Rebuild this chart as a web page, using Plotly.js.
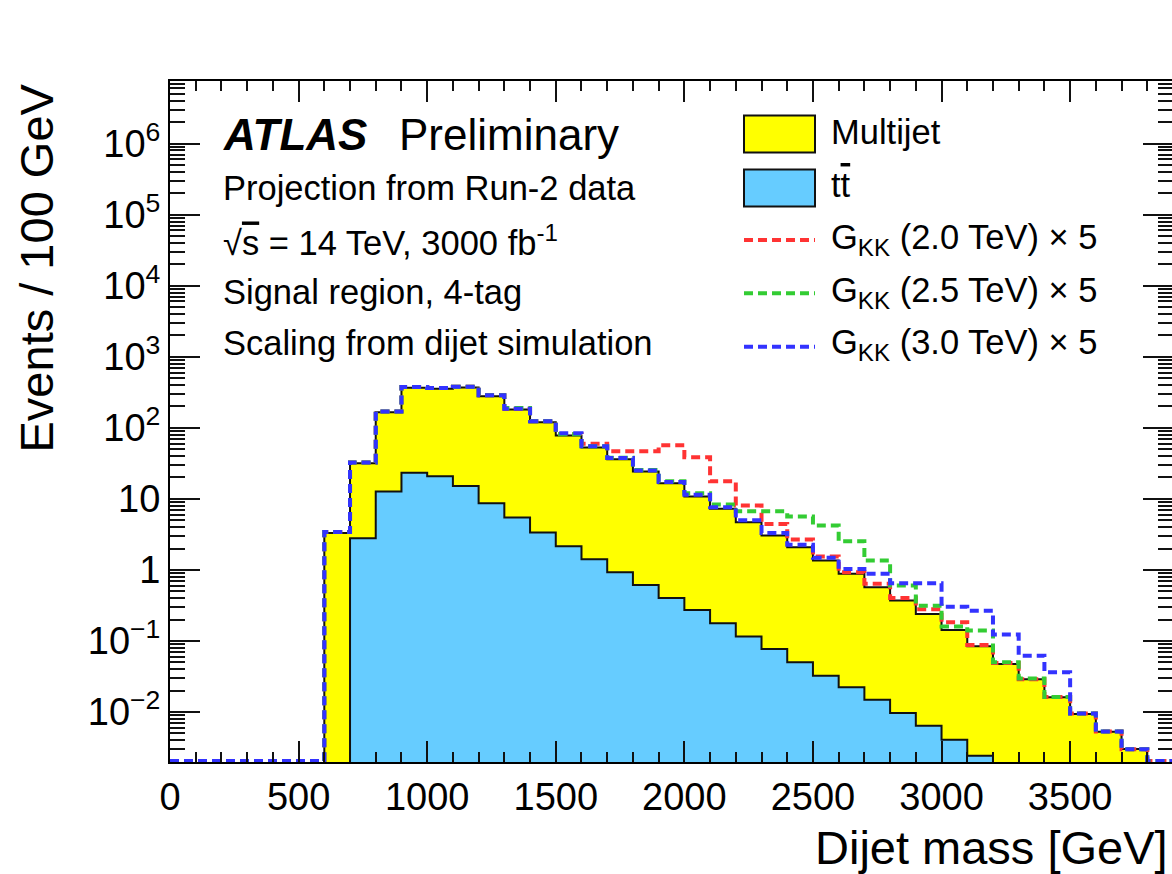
<!DOCTYPE html>
<html>
<head>
<meta charset="utf-8">
<script src="https://cdn.plot.ly/plotly-3.0.1.min.js"></script>
<style>
  html, body { margin: 0; padding: 0; background: #fff; overflow: hidden; }
  #plot { width: 1174px; height: 874px; }
</style>
</head>
<body>
<div id="plot"></div>
<script>
// Dijet mass histograms, 100 GeV bins; first bin starts at 600 GeV.
const binWidth = 100;
const firstEdge = 600;

// Top of the yellow stack (multijet stacked on ttbar), per bin from 600 GeV
const multijetStacked = [3.3, 31.7, 166, 366, 354, 370, 279, 181, 120, 78, 53, 36, 24.2, 16.6,
  10.8, 7.23, 4.69, 3.04, 2.08, 1.35, 0.879, 0.569, 0.370, 0.240, 0.143, 0.0839, 0.0475,
  0.0288, 0.0161, 0.00937, 0.00528, 0.00301];

// ttbar, per bin from 700 GeV
const ttbarStart = 700;
const ttbar = [2.79, 12.7, 23.2, 20.8, 15.2, 8.67, 5.45, 3.35, 2.15, 1.41, 0.925, 0.615, 0.403,
  0.273, 0.177, 0.115, 0.0771, 0.0500, 0.0324, 0.0222, 0.0149, 0.00968, 0.00641, 0.00407, 0.00243];

// Background + 5 x G_KK signal, per bin from 600 GeV
const gkk2000 = [3.4, 32.5, 170, 375, 362, 378, 286, 186, 124, 82, 59.5, 46.9, 46.9, 57, 38.5,
  17.7, 8.05, 4.44, 2.67, 1.54, 0.925, 0.64, 0.403, 0.28, 0.183, 0.088, 0.049, 0.029, 0.0163,
  0.0095, 0.0053, 0.0030];
const gkk2500 = [3.4, 32.5, 170, 375, 362, 378, 286, 190, 124, 81, 55, 38, 25.5, 17.7, 12.0,
  8.3, 6.69, 6.69, 5.63, 4.2, 2.53, 1.35, 0.601, 0.314, 0.16, 0.14, 0.05, 0.0295, 0.0163,
  0.0095, 0.0053, 0.0030];
const gkk3000 = [3.4, 32.5, 170, 375, 362, 378, 286, 186, 124, 84, 55, 37.5, 25, 17.2, 11.4,
  7.6, 5.0, 3.3, 2.25, 1.48, 1.03, 0.88, 0.648, 0.648, 0.304, 0.267, 0.123, 0.062, 0.0361,
  0.00955, 0.0053, 0.0030];

const xRange = [0, 3900];
const logRange = [-2.704, 6.881];

const yTickVals = [1e6, 1e5, 1e4, 1e3, 1e2, 10, 1, 0.1, 0.01];
const yTickText = ['10<sup>6</sup>', '10<sup>5</sup>', '10<sup>4</sup>', '10<sup>3</sup>',
  '10<sup>2</sup>', '10', '1', '10<sup>\u22121</sup>', '10<sup>\u22122</sup>'];

const legendLabels = ['Multijet', 't<span style="text-decoration:overline">t</span>',
  'G<sub>KK</sub> (2.0 TeV) \u00d7 5', 'G<sub>KK</sub> (2.5 TeV) \u00d7 5',
  'G<sub>KK</sub> (3.0 TeV) \u00d7 5'];

const infoLines = ['Projection from Run-2 data',
  '\u221a<span style="text-decoration:overline">s</span> = 14 TeV, 3000 fb<sup>-1</sup>',
  'Signal region, 4-tag', 'Scaling from dijet simulation'];

const colors = {
  multijet: '#ffff00', ttbar: '#66ccff',
  g2000: '#ff3333', g2500: '#33cc33', g3000: '#3333ff'
};

// Filled step histogram closed along a level below the visible range
function filledStep(values, start) {
  const below = Math.pow(10, logRange[0] - 1);
  const x = [start], y = [below];
  values.forEach((v, i) => { x.push(start + i * binWidth); y.push(v); });
  const end = start + values.length * binWidth;
  x.push(end, end); y.push(values[values.length - 1], below);
  return { x, y };
}

// Outline over the full axis; empty bins sit on the lower edge of the plot
function outlineStep(values, start) {
  const floor = Math.pow(10, logRange[0] + 0.015);
  const x = [], y = [];
  for (let e = xRange[0]; e < xRange[1]; e += binWidth) {
    const i = Math.round((e - start) / binWidth);
    x.push(e);
    y.push(i >= 0 && i < values.length ? values[i] : floor);
  }
  x.push(xRange[1]); y.push(y[y.length - 1]);
  return { x, y };
}

const mj = filledStep(multijetStacked, firstEdge);
const tt = filledStep(ttbar, ttbarStart);
const s1 = outlineStep(gkk2000, firstEdge);
const s2 = outlineStep(gkk2500, firstEdge);
const s3 = outlineStep(gkk3000, firstEdge);

const dashStyle = '9px,5px';
const dashWidth = 4;
const traces = [
  { x: mj.x, y: mj.y, mode: 'lines', line: { shape: 'hv', color: '#111', width: 2 },
    fill: 'toself', fillcolor: colors.multijet, name: 'Multijet', hoverinfo: 'skip' },
  { x: tt.x, y: tt.y, mode: 'lines', line: { shape: 'hv', color: '#111', width: 2 },
    fill: 'toself', fillcolor: colors.ttbar, name: 'ttbar', hoverinfo: 'skip' },
  { x: s1.x, y: s1.y, mode: 'lines', line: { shape: 'hv', color: colors.g2000, width: dashWidth, dash: dashStyle } },
  { x: s2.x, y: s2.y, mode: 'lines', line: { shape: 'hv', color: colors.g2500, width: dashWidth, dash: dashStyle } },
  { x: s3.x, y: s3.y, mode: 'lines', line: { shape: 'hv', color: colors.g3000, width: dashWidth, dash: dashStyle } }
];

// Minor log ticks 2..9 per decade
const yMinor = [];
for (let d = -3; d <= 6; d++) for (let k = 2; k <= 9; k++) yMinor.push(k * Math.pow(10, d));

// Layout in pixels -> paper fractions
const M = { l: 170, r: 1, t: 81, b: 112 };
const W = 1174, H = 874;
const pw = W - M.l - M.r, ph = H - M.t - M.b;
const px = v => (v - M.l) / pw;
const py = v => (H - M.b - v) / ph;

const font = 'Liberation Sans, Arial, Helvetica, sans-serif';
const annotations = [];
const shapes = [];

const atlasSize = 44;
annotations.push({ xref: 'paper', yref: 'paper', x: px(221), y: py(150 - 0.35 * atlasSize),
  xanchor: 'left', yanchor: 'middle', showarrow: false, text: '<b><i>ATLAS</i></b>',
  font: { family: font, size: atlasSize, color: '#000' } });
annotations.push({ xref: 'paper', yref: 'paper', x: px(397), y: py(150 - 0.35 * atlasSize),
  xanchor: 'left', yanchor: 'middle', showarrow: false, text: 'Preliminary',
  font: { family: font, size: atlasSize, color: '#000' } });

const infoSize = 34.5;
const infoBase = [200, 253, 304, 355];
infoLines.forEach((t, i) => annotations.push({ xref: 'paper', yref: 'paper',
  x: px(221), y: py(infoBase[i] - 0.35 * infoSize), xanchor: 'left', yanchor: 'middle',
  showarrow: false, text: t, font: { family: font, size: infoSize, color: '#000' } }));

// Legend
const legSize = 34.5;
const legBase = [144, 197, 252, 305, 357];
const legCenter = [134, 188, 240, 293.3, 346.7];
const legFills = [colors.multijet, colors.ttbar];
const legLines = [colors.g2000, colors.g2500, colors.g3000];
legendLabels.forEach((t, i) => annotations.push({ xref: 'paper', yref: 'paper',
  x: px(829), y: py(legBase[i] - 0.35 * legSize), xanchor: 'left', yanchor: 'middle',
  showarrow: false, text: t, font: { family: font, size: legSize, color: '#000' } }));
legFills.forEach((c, i) => shapes.push({ type: 'rect', xref: 'paper', yref: 'paper',
  x0: px(744), x1: px(815), y0: py(legCenter[i] - 18.5), y1: py(legCenter[i] + 18.5),
  fillcolor: c, line: { color: '#111', width: 2 } }));
legLines.forEach((c, i) => shapes.push({ type: 'line', xref: 'paper', yref: 'paper',
  x0: px(744), x1: px(815), y0: py(legCenter[i + 2]), y1: py(legCenter[i + 2]),
  line: { color: c, width: dashWidth, dash: dashStyle } }));

// Axis titles
annotations.push({ xref: 'paper', yref: 'paper', x: px(1170), y: py(864 - 0.35 * 47),
  xanchor: 'right', yanchor: 'middle', showarrow: false, text: 'Dijet mass [GeV]',
  font: { family: font, size: 47, color: '#000' } });
annotations.push({ xref: 'paper', yref: 'paper', x: px(36), y: py(82),
  xanchor: 'center', yanchor: 'top', showarrow: false, textangle: -90, text: 'Events / 100 GeV',
  font: { family: font, size: 47, color: '#000' } });

const layout = {
  width: W, height: H,
  margin: M,
  paper_bgcolor: '#fff', plot_bgcolor: '#fff',
  showlegend: false,
  font: { family: font, color: '#000' },
  xaxis: {
    range: xRange, showgrid: false, zeroline: false,
    showline: true, linecolor: '#000', linewidth: 2, mirror: 'ticks',
    ticks: 'inside', ticklen: 21, tickwidth: 2, tickcolor: '#111',
    tickmode: 'linear', tick0: 0, dtick: 500,
    tickfont: { family: font, size: 38, color: '#000' },
    minor: { ticks: 'inside', ticklen: 10, tickwidth: 2, tickcolor: '#111', dtick: 100, showgrid: false }
  },
  yaxis: {
    type: 'log', range: logRange, showgrid: false, zeroline: false,
    showline: true, linecolor: '#000', linewidth: 2, mirror: 'ticks',
    ticks: 'inside', ticklen: 30, tickwidth: 2, tickcolor: '#111',
    tickmode: 'array', tickvals: yTickVals, ticktext: yTickText,
    tickfont: { family: font, size: 38, color: '#000' },
    minor: { ticks: 'inside', ticklen: 15, tickwidth: 2, tickcolor: '#111',
      tickmode: 'array', tickvals: yMinor, showgrid: false }
  },
  annotations, shapes
};

Plotly.newPlot('plot', traces, layout, { staticPlot: true, displayModeBar: false });
</script>
</body>
</html>
